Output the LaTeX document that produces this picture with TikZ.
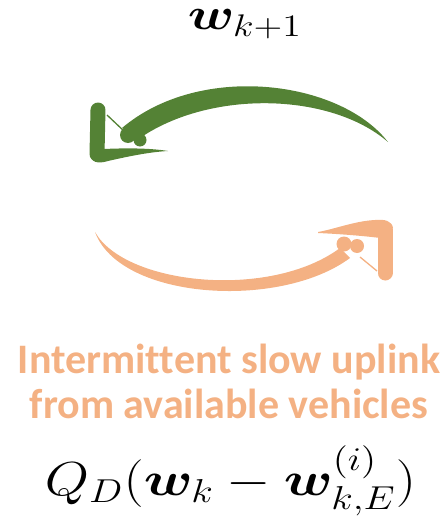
\documentclass[tikz,border=0pt]{standalone}
\usepackage{amsmath,bm}
\usepackage{fontspec}
\newfontfamily\calfont[Ligatures=NoCommon]{Carlito}
\definecolor{arrgreen}{HTML}{548235}
\definecolor{arrorange}{HTML}{F4B183}
\newcommand{\bigmath}[3]{\scalebox{#1}[#2]{\fontsize{20.74}{25}\selectfont$#3$}}
\begin{document}
\begin{tikzpicture}[x=1pt,y=-1pt,
  mathlbl/.style={inner sep=0pt,anchor=base},
  orangetxt/.style={inner sep=0pt,anchor=base,text=arrorange,font=\fontsize{42}{45}\selectfont\calfont\bfseries}]
\useasboundingbox (0,0) rectangle (447,527);
% ---------- green arrow ----------
\begin{scope}[fill=arrgreen,draw=arrgreen]
  \fill (388,142) .. controls (340,80) and (200,62) .. (122,128)
        -- (140,138) .. controls (210,90) and (330,92) .. (388,142) -- cycle;
  \fill (128,135) circle (8);
  \fill (140,140) circle (6.5);
  \draw[line width=15pt,line cap=round] (98,110) -- (97,154);
  \fill (90,152) .. controls (90,163) and (98,164) .. (108,161)
        .. controls (130,156) and (150,152) .. (168,151)
        .. controls (150,148) and (125,148) .. (104,149) -- cycle;
  \draw[line width=1.3pt] (107,115) -- (125,132);
\end{scope}
% ---------- orange arrow ----------
\begin{scope}[fill=arrorange,draw=arrorange]
  \fill (95,232) .. controls (125,285) and (270,300) .. (340,248)
        -- (350,258) .. controls (280,310) and (120,300) .. (95,232) -- cycle;
  \fill (344,244) circle (7.5);
  \fill (357,246) circle (7);
  \draw[line width=15pt,line cap=round] (385,230) -- (385,273);
  \fill (318,232) .. controls (335,229) and (355,221) .. (375,220)
        .. controls (385,219) and (392,221) .. (393,228)
        -- (380,238) .. controls (365,236) and (340,234) .. (318,233) -- cycle;
  \draw[line width=1.3pt] (360,257) -- (377,271);
\end{scope}
% ---------- labels ----------
\node[mathlbl] (top) at (245,29.5) {\bigmath{2.62}{2.17}{\boldsymbol{w}_{k+1}}};
\node[orangetxt] (l1) at (229,373) {Intermittent slow uplink};
\node[orangetxt] (l2) at (229,418) {from available vehicles};
\node[mathlbl] (bot) at (230.5,495) {\bigmath{2.75}{2.3}{Q_D(\boldsymbol{w}_k-\boldsymbol{w}_{k,E}^{(i)})}};
\end{tikzpicture}
\end{document}
